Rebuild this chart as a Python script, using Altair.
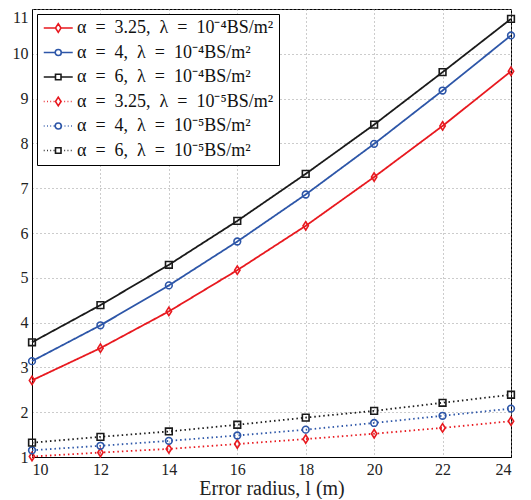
import altair as alt
import pandas as pd

radius = [10, 12, 14, 16, 18, 20, 22, 24]
series_labels = [
    "α\u2002=\u20023.25,\u2002λ\u2002=\u200210⁻⁴BS/m²",
    "α\u2002=\u20024,\u2002λ\u2002=\u200210⁻⁴BS/m²",
    "α\u2002=\u20026,\u2002λ\u2002=\u200210⁻⁴BS/m²",
    "α\u2002=\u20023.25,\u2002λ\u2002=\u200210⁻⁵BS/m²",
    "α\u2002=\u20024,\u2002λ\u2002=\u200210⁻⁵BS/m²",
    "α\u2002=\u20026,\u2002λ\u2002=\u200210⁻⁵BS/m²",
]
red_e4 = [2.71, 3.43, 4.25, 5.17, 6.16, 7.25, 8.39, 9.61]
blue_e4 = [3.14, 3.94, 4.83, 5.81, 6.86, 7.99, 9.18, 10.41]
black_e4 = [3.56, 4.39, 5.29, 6.27, 7.32, 8.42, 9.59, 10.78]
red_e5 = [1.01, 1.10, 1.18, 1.29, 1.40, 1.52, 1.65, 1.80]
blue_e5 = [1.15, 1.25, 1.36, 1.48, 1.61, 1.76, 1.92, 2.08]
black_e5 = [1.32, 1.45, 1.57, 1.72, 1.88, 2.03, 2.21, 2.39]
all_values = [red_e4, blue_e4, black_e4, red_e5, blue_e5, black_e5]

colors = ["#e8191f", "#2d56a8", "#1a1a1a"] * 2
dashes = [[1, 0]] * 3 + [[1.5, 3]] * 3

rows = []
for lab, vals in zip(series_labels, all_values):
    for r, v in zip(radius, vals):
        rows.append({"radius": r, "value": v, "series": lab, "marker": lab})
df = pd.DataFrame(rows)

diamond = "M0,-1.25L0.8,0L0,1.25L-0.8,0Z"
marker_shapes = [diamond, "circle", "square"] * 2


def seg(x0, x1, dotted):
    if not dotted:
        return f"M{x0},0L{x1},0"
    out = []
    x = x0
    while x < x1 - 0.05:
        out.append(f"M{x:.2f},0L{min(x + 0.12, x1):.2f},0")
        x += 0.45
    return "".join(out)


def mk(kind):
    if kind == "d":
        return "M1,-0.6L1.38,0L1,0.6L0.62,0Z", 0.62, 1.38
    if kind == "c":
        return "M1.42,0A0.42,0.42 0 1,1 0.58,0A0.42,0.42 0 1,1 1.42,0Z", 0.58, 1.42
    return "M0.62,-0.38L1.38,-0.38L1.38,0.38L0.62,0.38Z", 0.62, 1.38


legend_paths = []
for i, kind in enumerate(["d", "c", "s", "d", "c", "s"]):
    m, a, b = mk(kind)
    dotted = i >= 3
    legend_paths.append(seg(-1, a, dotted) + seg(b, 3, dotted) + m)

x_enc = alt.X("radius:Q", scale=alt.Scale(domain=[10, 24], nice=False),
              axis=alt.Axis(values=[10, 12, 14, 16, 18, 20, 22, 24],
                            title="Error radius, l (m)"))
y_enc = alt.Y("value:Q", scale=alt.Scale(domain=[1, 11], nice=False),
              axis=alt.Axis(values=list(range(1, 12)), title=None,
                            labelBaseline={"condition": {"test": "datum.value == 11",
                                                         "value": "top"},
                                           "value": "middle"}))

lines = alt.Chart(df).mark_line(strokeWidth=1.8).encode(
    x=x_enc, y=y_enc,
    color=alt.Color("series:N", scale=alt.Scale(domain=series_labels, range=colors),
                    legend=None),
    strokeDash=alt.StrokeDash("series:N",
                              scale=alt.Scale(domain=series_labels, range=dashes),
                              legend=None),
    detail="series:N",
)

points = alt.Chart(df).mark_point(filled=False, strokeWidth=1.6, size=45, opacity=1).encode(
    x=x_enc, y=y_enc,
    color=alt.Color("series:N", scale=alt.Scale(domain=series_labels, range=colors),
                    legend=None),
    shape=alt.Shape("marker:N", scale=alt.Scale(domain=series_labels, range=marker_shapes),
                    legend=None),
)

legend_layer = alt.Chart(df).mark_point(filled=False, opacity=0).encode(
    x=x_enc, y=y_enc,
    color=alt.Color("series:N", scale=alt.Scale(domain=series_labels, range=colors),
                    legend=alt.Legend(title=None)),
    shape=alt.Shape("series:N", scale=alt.Scale(domain=series_labels, range=legend_paths),
                    legend=alt.Legend(title=None)),
)

chart = alt.layer(lines, points, legend_layer).resolve_scale(
    shape="independent", color="independent"
).properties(
    width=479, height=448,
    padding={"left": 24, "top": 1, "right": 12, "bottom": 42},
    autosize="none",
).configure_view(
    stroke="#000", strokeWidth=1
).configure_axis(
    labelFont="Liberation Serif", labelFontSize=16, labelColor="#222",
    titleFont="Liberation Serif", titleFontSize=20, titleColor="#222", titleFontWeight="normal",
    domainColor="#000", domainWidth=1,
    grid=True, gridDash=[1, 3], gridColor="#999", gridWidth=1,
    ticks=False, labelPadding=4, titlePadding=1,
).configure_legend(
    orient="none", legendX=5, legendY=5,
    symbolSize=210, symbolOpacity=1, symbolStrokeWidth=1.6,
    labelFont="Liberation Serif", labelFontSize=18, labelColor="#111",
    labelOffset=17, rowPadding=6.5, padding=5,
    strokeColor="#000", fillColor="#fff", labelLimit=400,
)

chart.save("out.html", embed_options={"renderer": "svg", "actions": False})
